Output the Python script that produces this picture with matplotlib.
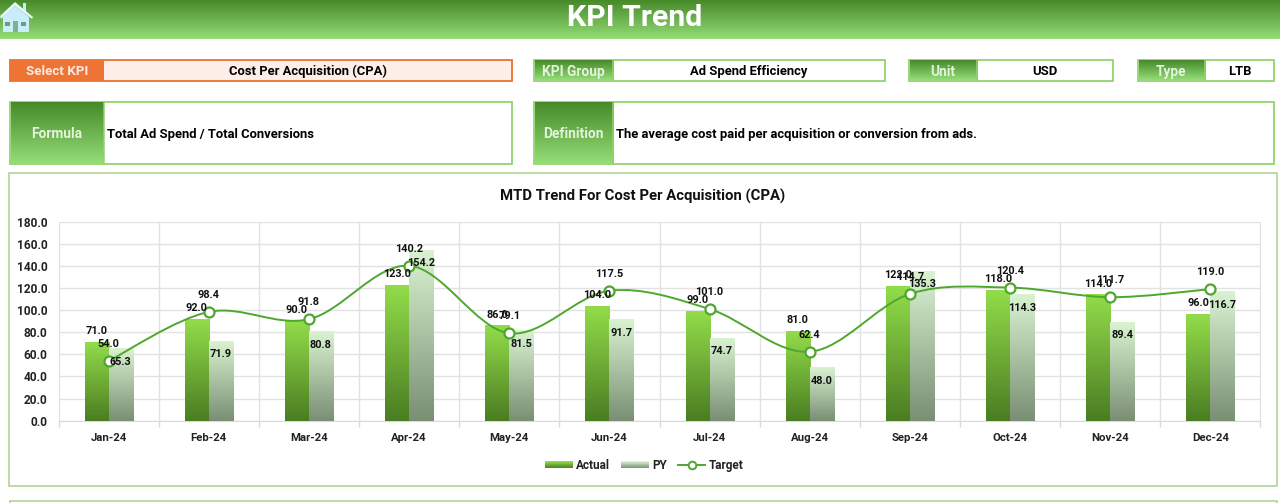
"""KPI trend dashboard page with the MTD bar and line chart."""
import matplotlib

matplotlib.use("Agg")
import matplotlib.colors as mcolors
import matplotlib.pyplot as plt
import numpy as np
from matplotlib.legend_handler import HandlerBase
from matplotlib.lines import Line2D
from matplotlib.patches import PathPatch, Polygon, Rectangle
from matplotlib.path import Path

MONTHS = ["Jan-24", "Feb-24", "Mar-24", "Apr-24", "May-24", "Jun-24",
          "Jul-24", "Aug-24", "Sep-24", "Oct-24", "Nov-24", "Dec-24"]
ACTUAL = [71.0, 92.0, 90.0, 123.0, 86.0, 104.0, 99.0, 81.0, 122.0, 118.0, 114.0, 96.0]
PY = [65.3, 71.9, 80.8, 154.2, 81.5, 91.7, 74.7, 48.0, 135.3, 114.3, 89.4, 116.7]
TARGET = [54.0, 98.4, 91.8, 140.2, 79.1, 117.5, 101.0, 62.4, 114.7, 120.4, 111.7, 119.0]
Y_TICKS = [0, 20, 40, 60, 80, 100, 120, 140, 160, 180]

W, H = 1280, 503
FONT = "Roboto"
GREEN_BORDER = "#92d36e"
HEAD_CMAP = mcolors.LinearSegmentedColormap.from_list("head", ["#478a2a", "#93dc76"])
ACTUAL_CMAP = mcolors.LinearSegmentedColormap.from_list("actual", ["#4b7d22", "#92dc4a"])
PY_CMAP = mcolors.LinearSegmentedColormap.from_list("py", ["#7a8f74", "#d9f2d0"])
LINE_GREEN = "#4ea72e"

plt.rcParams["font.family"] = [FONT, "DejaVu Sans"]
plt.rcParams["font.weight"] = "bold"

fig = plt.figure(figsize=(W / 100, H / 100), dpi=100)

# page layer, in pixels from the top left
page = fig.add_axes([0, 0, 1, 1])
page.set_xlim(0, W)
page.set_ylim(H, 0)
page.axis("off")


def gradient(axis, x0, y0, x1, y1, cmap, zorder=2):
    axis.imshow(np.linspace(0, 1, 64).reshape(-1, 1), extent=(x0, x1, y0, y1), origin="lower",
                cmap=cmap, aspect="auto", zorder=zorder, interpolation="bilinear")


def box(x0, y0, x1, y1, face="white", edge=GREEN_BORDER, lw=1.3, zorder=3):
    page.add_patch(Rectangle((x0, y0), x1 - x0, y1 - y0, facecolor=face, edgecolor=edge, linewidth=lw, zorder=zorder))


def field(x0, x1, split, y0, y1, label, value, left_value=False):
    box(x0, y0, x1, y1)
    # dark end of the fill at the top of the cell
    gradient(page, x0 + 1, y0 + 1, split, y1 - 1, HEAD_CMAP, zorder=4)
    page.plot([split, split], [y0, y1], color=GREEN_BORDER, lw=1.1, zorder=5)
    mid = (y0 + y1) / 2 + 1
    page.text((x0 + split) / 2, mid + 0.5, label, color="#e4f3dc", fontsize=9.9, ha="center", va="center", zorder=6)
    if left_value:
        page.text(split + 3, mid + 0.5, value, color="black", fontsize=9.4, ha="left", va="center", zorder=6)
    else:
        page.text((split + x1) / 2, mid, value, color="black", fontsize=9.4, ha="center", va="center", zorder=6)


# header band
gradient(page, 0, 0, W, 39, HEAD_CMAP, zorder=1)
page.text(635, 18, "KPI Trend", color="white", fontsize=21.8, ha="center", va="center", zorder=6)

# home icon
ICON = "#c9eefb"
page.add_patch(Polygon([(3, 17), (15, 6), (29, 17), (29, 32), (3, 32)], facecolor=ICON, edgecolor="none", zorder=5))
page.add_patch(Polygon([(23, 3), (26, 3), (26, 12), (23, 10)], facecolor=ICON, edgecolor="none", zorder=5))
page.add_patch(Polygon([(0, 16), (15, 2), (33, 17), (32, 19), (15, 6), (1, 19)], facecolor="#e4f6fc", edgecolor="none", zorder=6))
page.add_patch(Rectangle((5, 22), 5, 4, facecolor="#6f9c7c", zorder=6))
page.add_patch(Rectangle((21, 22), 5, 4, facecolor="#6f9c7c", zorder=6))
page.add_patch(Rectangle((13, 21), 5, 11, facecolor="#7fb18f", zorder=6))

# selector row
box(10, 59.5, 512, 81, face="#fdeee8", edge="#e97132")
page.add_patch(Rectangle((10, 59.5), 94, 21.5, facecolor="#ed7435", edgecolor="none", zorder=4))
page.text(57, 71.5, "Select KPI", color="#fbe9df", fontsize=9.6, ha="center", va="center", zorder=6)
page.text(308, 71, "Cost Per Acquisition (CPA)", color="black", fontsize=9.4, ha="center", va="center", zorder=6)
field(533.5, 885, 613, 59.5, 81, "KPI Group", "Ad Spend Efficiency")
field(908.5, 1113, 977, 59.5, 81, "Unit", "USD")
field(1137.5, 1274, 1205, 59.5, 81, "Type", "LTB")

# formula and definition row
field(10, 512, 104, 101.5, 164, "Formula", "Total Ad Spend / Total Conversions", left_value=True)
field(533.5, 1274, 613, 101.5, 164, "Definition", "The average cost paid per acquisition or conversion from ads.", left_value=True)

# chart frame and the panel cut off below it
box(9, 173, 1276.5, 486, lw=1.1, edge="#a9d18e", zorder=1)
box(10, 501, 1276.5, 520, lw=1.1, edge="#a9d18e", zorder=1)
page.text(642.5, 196, "MTD Trend For Cost Per Acquisition (CPA)", color="#111111", fontsize=10.7, ha="center", va="center", zorder=6)
page.set_xlim(0, W)
page.set_ylim(H, 0)

# chart layer
PLOT_X0, PLOT_X1, PLOT_TOP, PLOT_BOTTOM = 58.5, 1260.5, 221.7, 420.7
ax = fig.add_axes([PLOT_X0 / W, 1 - PLOT_BOTTOM / H, (PLOT_X1 - PLOT_X0) / W, (PLOT_BOTTOM - PLOT_TOP) / H])
ax.patch.set_alpha(0)
positions = np.arange(len(MONTHS))
BAR_W = 0.24


def gradient_bars(axis, xs, values, cmap, zorder=3):
    bars = axis.bar(xs, values, width=BAR_W, color="none", zorder=zorder)
    for rect, value in zip(bars, values):
        # colour runs over the height of each bar, dark at the base
        gradient(axis, rect.get_x(), 0, rect.get_x() + rect.get_width(), value, cmap, zorder=zorder)
    return bars


gradient_bars(ax, positions - BAR_W / 2, ACTUAL, ACTUAL_CMAP)
gradient_bars(ax, positions + BAR_W / 2, PY, PY_CMAP)

# smoothed target line: bezier segments that pass through each monthly value
pts = np.column_stack([positions, TARGET]).astype(float)
verts = [tuple(pts[0])]
codes = [Path.MOVETO]
for i in range(len(pts) - 1):
    before = pts[max(i - 1, 0)]
    after = pts[min(i + 2, len(pts) - 1)]
    verts += [tuple(pts[i] + (pts[i + 1] - before) / 6), tuple(pts[i + 1] - (after - pts[i]) / 6), tuple(pts[i + 1])]
    codes += [Path.CURVE4, Path.CURVE4, Path.CURVE4]
ax.add_patch(PathPatch(Path(verts, codes), facecolor="none", edgecolor=LINE_GREEN, linewidth=1.4, zorder=4))
ax.plot(positions, TARGET, linestyle="none", marker="o", markersize=7.2, markerfacecolor="white",
        markeredgecolor=LINE_GREEN, markeredgewidth=1.6, zorder=5)

LABEL_SIZE = 7.8
for x, actual, py, target in zip(positions, ACTUAL, PY, TARGET):
    ax.annotate(f"{actual:.1f}", (x - BAR_W / 2, actual), xytext=(0, 8), textcoords="offset points", ha="center", va="center",
                fontsize=LABEL_SIZE, color="#111111", zorder=6)
    ax.annotate(f"{py:.1f}", (x + BAR_W / 2, py), xytext=(0, -9.5), textcoords="offset points", ha="center", va="center",
                fontsize=LABEL_SIZE, color="#111111", zorder=6)
    ax.annotate(f"{target:.1f}", (x, target), xytext=(0, 12.3), textcoords="offset points", ha="center", va="center",
                fontsize=LABEL_SIZE, color="#111111", zorder=6)

ax.set_xlim(-0.5, len(MONTHS) - 0.5)
ax.set_ylim(0, 180)
ax.set_yticks(Y_TICKS)
ax.set_yticklabels([f"{v:.1f}" for v in Y_TICKS], fontsize=8.6, color="#222222")
ax.set_xticks(positions)
ax.set_xticklabels(MONTHS, fontsize=8.2, color="#222222")
ax.set_xticks(np.arange(-0.5, len(MONTHS)), minor=True)
ax.tick_params(axis="x", which="major", length=0, pad=9)
ax.tick_params(axis="x", which="minor", length=4, color="#d9d9d9", width=1)
ax.tick_params(axis="y", length=0, pad=8)
ax.grid(True, axis="y", which="major", color="#e2e2e2", linewidth=1, zorder=0)
ax.grid(True, axis="x", which="minor", color="#e2e2e2", linewidth=1, zorder=0)
ax.grid(False, axis="x", which="major")
ax.set_axisbelow(True)
for name, spine in ax.spines.items():
    spine.set_visible(name == "bottom")
    spine.set_color("#d9d9d9")


class GradientHandle(HandlerBase):
    def __init__(self, cmap):
        super().__init__()
        self.cmap = cmap

    def create_artists(self, legend, orig_handle, xdescent, ydescent, width, height, fontsize, trans):
        strips = []
        for i in range(12):
            strips.append(Rectangle((-xdescent, -ydescent + height * i / 12), width, height / 12 + 0.2,
                                    facecolor=self.cmap(i / 11), edgecolor="none", transform=trans))
        return strips


actual_handle = Rectangle((0, 0), 1, 1)
py_handle = Rectangle((0, 0), 1, 1)
target_handle = Line2D([], [], color=LINE_GREEN, linewidth=1.4, marker="o", markersize=5.5, markerfacecolor="white",
                       markeredgecolor=LINE_GREEN, markeredgewidth=1.4)
ax.legend([actual_handle, py_handle, target_handle], ["Actual", "PY", "Target"], ncol=3,
          handler_map={actual_handle: GradientHandle(ACTUAL_CMAP), py_handle: GradientHandle(PY_CMAP)},
          loc="center", bbox_to_anchor=(644.5 / W, 1 - 465.5 / H), bbox_transform=fig.transFigure, frameon=False,
          prop={"size": 8.5, "weight": "bold"}, labelcolor="#222222", handlelength=2.3, handleheight=0.55,
          handletextpad=0.3, columnspacing=0.95, borderpad=0)

fig.savefig("out.png", dpi=100)
